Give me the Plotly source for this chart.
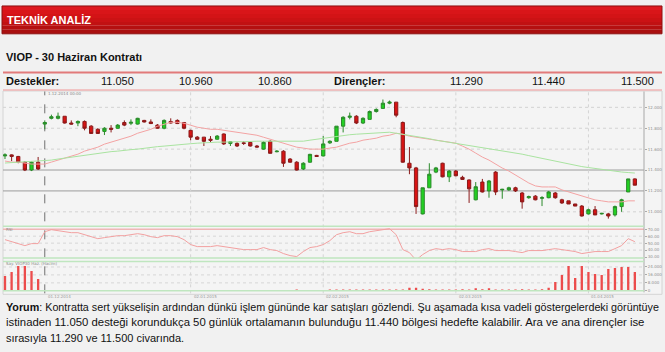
import plotly.graph_objects as go

W, H = 665, 352

# ---------------- data ----------------
opens = [11.535, 11.545, 11.530, 11.475, 11.400, 11.475, 11.840, 11.895, 11.895, 11.915,
         11.850, 11.850, 11.865, 11.820, 11.790, 11.770, 11.800, 11.800, 11.855, 11.848,
         11.840, 11.875, 11.860, 11.830, 11.800, 11.865, 11.875, 11.855, 11.780, 11.715,
         11.715, 11.695, 11.695, 11.745, 11.655, 11.655, 11.660, 11.665, 11.630, 11.600,
         11.675, 11.575, 11.580, 11.505, 11.475, 11.410, 11.475, 11.540, 11.535, 11.660,
         11.675, 11.820, 11.905, 11.915, 11.850, 11.885, 11.960, 11.990, 12.040, 12.050,
         11.855, 11.465, 11.420, 10.980, 11.230, 11.380, 11.465, 11.335, 11.390, 11.330,
         11.305, 11.115, 11.285, 11.200, 11.380, 11.210, 11.210, 11.230, 11.180, 11.135,
         11.150, 11.130, 11.135, 11.180, 11.115, 11.105, 11.075, 11.055, 10.980, 11.020,
         10.980, 10.980, 10.970, 11.050, 11.190, 11.315]
highs = [11.560, 11.550, 11.535, 11.485, 11.485, 11.525, 11.875, 11.930, 11.950, 11.915,
         11.875, 11.875, 11.875, 11.830, 11.800, 11.810, 11.830, 11.840, 11.875, 11.885,
         11.900, 11.880, 11.885, 11.840, 11.885, 11.895, 11.885, 11.860, 11.785, 11.725,
         11.715, 11.725, 11.735, 11.750, 11.675, 11.665, 11.675, 11.675, 11.640, 11.675,
         11.685, 11.590, 11.590, 11.515, 11.485, 11.475, 11.555, 11.545, 11.725, 11.685,
         11.820, 11.915, 11.950, 11.925, 11.905, 11.970, 11.990, 12.075, 12.065, 12.050,
         11.865, 11.620, 11.430, 11.230, 11.465, 11.430, 11.470, 11.400, 11.400, 11.345,
         11.310, 11.285, 11.315, 11.305, 11.390, 11.220, 11.240, 11.240, 11.190, 11.155,
         11.160, 11.150, 11.200, 11.190, 11.125, 11.105, 11.075, 11.065, 11.030, 11.055,
         10.990, 10.990, 11.060, 11.125, 11.315, 11.320]
lows = [11.505, 11.485, 11.465, 11.390, 11.390, 11.400, 11.790, 11.885, 11.885, 11.845,
        11.835, 11.820, 11.780, 11.745, 11.745, 11.735, 11.760, 11.795, 11.820, 11.830,
        11.835, 11.855, 11.840, 11.795, 11.790, 11.845, 11.840, 11.790, 11.685, 11.690,
        11.630, 11.665, 11.690, 11.640, 11.630, 11.620, 11.640, 11.625, 11.615, 11.595,
        11.560, 11.570, 11.430, 11.470, 11.395, 11.400, 11.470, 11.525, 11.530, 11.650,
        11.675, 11.760, 11.885, 11.840, 11.840, 11.885, 11.950, 11.990, 12.030, 11.905,
        11.470, 11.360, 10.980, 10.975, 11.230, 11.370, 11.330, 11.285, 11.340, 11.305,
        11.085, 11.110, 11.185, 11.135, 11.160, 11.125, 11.200, 11.190, 11.030, 11.125,
        11.110, 11.055, 11.130, 11.125, 11.075, 11.075, 11.055, 10.955, 10.975, 10.970,
        10.975, 10.935, 10.955, 11.000, 11.190, 11.255]
closes = [11.545, 11.530, 11.475, 11.400, 11.475, 11.410, 11.855, 11.910, 11.915, 11.850,
          11.840, 11.865, 11.800, 11.750, 11.750, 11.800, 11.790, 11.830, 11.830, 11.857,
          11.895, 11.860, 11.845, 11.800, 11.875, 11.850, 11.845, 11.800, 11.715, 11.695,
          11.675, 11.685, 11.725, 11.650, 11.670, 11.630, 11.655, 11.630, 11.620, 11.665,
          11.560, 11.580, 11.465, 11.475, 11.400, 11.465, 11.550, 11.530, 11.650, 11.675,
          11.820, 11.905, 11.915, 11.850, 11.895, 11.960, 11.980, 12.040, 12.050, 11.925,
          11.475, 11.420, 11.050, 11.230, 11.360, 11.420, 11.335, 11.390, 11.345, 11.310,
          11.220, 11.240, 11.190, 11.295, 11.190, 11.215, 11.230, 11.200, 11.095, 11.145,
          11.115, 11.135, 11.190, 11.135, 11.085, 11.075, 11.055, 10.960, 11.020, 10.970,
          10.985, 10.960, 11.050, 11.115, 11.315, 11.255]

ma_short = [11.486, 11.476, 11.476, 11.467, 11.457, 11.457, 11.457, 11.476, 11.495, 11.514,
            11.533, 11.552, 11.581, 11.600, 11.619, 11.648, 11.667, 11.686, 11.705, 11.724,
            11.752, 11.771, 11.790, 11.819, 11.838, 11.857, 11.857, 11.848, 11.829, 11.810,
            11.800, 11.790, 11.790, 11.781, 11.771, 11.762, 11.752, 11.743, 11.733, 11.714,
            11.695, 11.676, 11.657, 11.638, 11.619, 11.610, 11.600, 11.600, 11.600, 11.610,
            11.619, 11.638, 11.657, 11.667, 11.686, 11.695, 11.705, 11.724, 11.733, 11.752,
            11.743, 11.724, 11.714, 11.705, 11.695, 11.686, 11.676, 11.667, 11.657, 11.629,
            11.600, 11.562, 11.524, 11.495, 11.457, 11.419, 11.390, 11.352, 11.314, 11.276,
            11.248, 11.238, 11.238, 11.238, 11.210, 11.190, 11.171, 11.152, 11.133, 11.114,
            11.105, 11.095, 11.095, 11.095, 11.105, 11.105]
ma_long = [11.467, 11.471, 11.476, 11.476, 11.481, 11.486, 11.486, 11.495, 11.505, 11.514,
           11.524, 11.533, 11.543, 11.552, 11.562, 11.571, 11.576, 11.581, 11.590, 11.595,
           11.600, 11.610, 11.619, 11.624, 11.629, 11.633, 11.638, 11.648, 11.652, 11.657,
           11.662, 11.667, 11.667, 11.667, 11.671, 11.671, 11.671, 11.676, 11.676, 11.676,
           11.676, 11.676, 11.676, 11.676, 11.676, 11.676, 11.686, 11.695, 11.705, 11.714,
           11.724, 11.733, 11.738, 11.743, 11.748, 11.752, 11.757, 11.762, 11.762, 11.752,
           11.743, 11.733, 11.724, 11.714, 11.700, 11.686, 11.676, 11.662, 11.652, 11.643,
           11.633, 11.624, 11.614, 11.605, 11.595, 11.586, 11.576, 11.562, 11.552, 11.538,
           11.524, 11.510, 11.500, 11.486, 11.471, 11.457, 11.443, 11.433, 11.424, 11.414,
           11.405, 11.395, 11.386, 11.381, 11.376, 11.371]

rsi = [55.0, 52.1, 49.3, 46.4, 49.3, 49.3, 66.4, 69.3, 67.9, 66.4,
       65.0, 65.0, 62.1, 59.3, 56.4, 57.9, 59.3, 60.7, 60.7, 62.1,
       63.6, 62.1, 59.3, 57.9, 60.7, 60.7, 59.3, 55.0, 47.9, 45.0,
       45.0, 45.0, 46.4, 45.0, 43.6, 42.1, 40.7, 40.7, 40.7, 43.6,
       40.7, 39.3, 35.0, 32.1, 30.7, 37.9, 43.6, 45.0, 47.9, 53.6,
       62.1, 65.0, 66.4, 63.6, 63.6, 66.4, 67.9, 69.3, 70.7, 62.1,
       40.7, 36.4, 25.7, 33.6, 39.3, 42.1, 40.7, 42.1, 40.7, 37.9,
       37.9, 37.9, 40.7, 42.1, 39.3, 39.3, 39.3, 37.9, 36.4, 39.3,
       39.3, 39.3, 40.7, 42.1, 40.7, 39.3, 37.9, 35.0, 36.4, 37.9,
       37.9, 37.9, 42.1, 46.4, 56.4, 52.1]

volume = [15000, 19000, 25000, 25000, 20000, 12000, 200, 200, 200, 200,
          200, 200, 200, 200, 200, 200, 200, 200, 200, 200,
          200, 200, 200, 200, 200, 200, 200, 200, 200, 200,
          200, 200, 200, 200, 200, 200, 200, 200, 200, 200,
          300, 300, 300, 300, 1000, 300, 300, 300, 300, 600,
          600, 600, 600, 600, 600, 600, 600, 600, 600, 800,
          1200, 3000, 3000, 2000, 1500, 1000, 1000, 1000, 800, 1500,
          800, 2500, 1500, 2500, 1000, 1000, 1000, 1000, 1500, 1000,
          1000, 1500, 3000, 9000, 16000, 25000, 13000, 25000, 19000, 17000,
          16000, 22000, 23000, 24000, 24000, 19000]

idx = list(range(len(opens)))

month_start = [6, 28, 48, 68, 88]
month_labels = ["01.12.2014", "02.01.2015", "02.02.2015", "02.03.2015", "01.04.2015"]

price_ticks = [12.0, 11.8, 11.6, 11.4, 11.2, 11.0]
rsi_ticks = [70, 60, 50, 40, 30]
vol_ticks = [0, 8000, 16000, 24000]

supports = ["11.050", "10.960", "10.860"]
resistances = ["11.290", "11.440", "11.500"]

title_text = "TEKNİK ANALİZ"
subtitle_text = "VIOP - 30 Haziran Kontratı"
comment_lines = [
    "<b>Yorum</b>: Kontratta sert yükselişin ardından dünkü işlem gününde kar satışları gözlendi. Şu aşamada kısa vadeli göstergelerdeki görüntüye",
    "istinaden 11.050 desteği korundukça 50 günlük ortalamanın bulunduğu 11.440 bölgesi hedefte kalabilir. Ara ve ana dirençler ise",
    "sırasıyla 11.290 ve 11.500 civarında.",
]

# ---------------- helpers (page layout in pixels) ----------------
def fx(px):
    return px / W

def fy(py):
    return 1 - py / H

FONT = "Liberation Sans, Arial, sans-serif"

fig = go.Figure()

fig.add_trace(go.Scatter(x=idx, y=ma_short, mode="lines", line=dict(color="#f3a3a3", width=1),
                         xaxis="x", yaxis="y", hoverinfo="skip"))
fig.add_trace(go.Scatter(x=idx, y=ma_long, mode="lines", line=dict(color="#a9e3a0", width=1),
                         xaxis="x", yaxis="y", hoverinfo="skip"))
fig.add_trace(go.Candlestick(
    x=idx, open=opens, high=highs, low=lows, close=closes,
    increasing=dict(fillcolor="#22d022", line=dict(color="#2a8a2a", width=1)),
    decreasing=dict(fillcolor="#d81414", line=dict(color="#8a1a1a", width=1)),
    whiskerwidth=0, xaxis="x", yaxis="y"))

fig.add_trace(go.Scatter(x=idx, y=rsi, mode="lines", line=dict(color="#f2a0a0", width=1),
                         xaxis="x2", yaxis="y2", hoverinfo="skip"))

fig.add_trace(go.Bar(x=idx, y=volume, width=0.35, marker=dict(color="#ec4c4c", line=dict(width=0)),
                     xaxis="x3", yaxis="y3"))

xr = [-0.3, 96.38]
xdom = [fx(3), fx(644)]
common_x = dict(range=xr, domain=xdom, showgrid=False, zeroline=False, showticklabels=False,
                ticks="", fixedrange=True, rangeslider=dict(visible=False))

shapes = []

# header bar gradient
top, bot = 6, 34
bands = ["#df1a20", "#d91519", "#d31316", "#cb1214", "#c11112", "#b51010", "#aa1010"]
n = len(bands)
for k, c in enumerate(bands):
    y0 = top + (bot - top) * k / n
    y1 = top + (bot - top) * (k + 1) / n
    shapes.append(dict(type="rect", xref="paper", yref="paper", x0=fx(2), x1=fx(662),
                       y0=fy(y1), y1=fy(y0), fillcolor=c, line=dict(width=0), layer="below"))
shapes.append(dict(type="rect", xref="paper", yref="paper", x0=fx(2), x1=fx(662),
                   y0=fy(bot), y1=fy(top), line=dict(color="#8e1010", width=1)))

# separator lines of the page
shapes.append(dict(type="line", xref="paper", yref="paper", x0=fx(3), x1=fx(662),
                   y0=fy(73), y1=fy(73), line=dict(color="#e27a7a", width=2)))
shapes.append(dict(type="line", xref="paper", yref="paper", x0=fx(3), x1=fx(662),
                   y0=fy(90.5), y1=fy(90.5), line=dict(color="#f0b4b4", width=1.5)))

# chart frame
shapes.append(dict(type="rect", xref="paper", yref="paper", x0=fx(3), x1=fx(662),
                   y0=fy(296), y1=fy(91.5), line=dict(color="#d4d4d4", width=1), layer="below",
                   fillcolor="#f4f4f4"))
shapes.append(dict(type="line", xref="paper", yref="paper", x0=fx(644), x1=fx(644),
                   y0=fy(294), y1=fy(92), line=dict(color="#a8a8a8", width=1)))

# price grid
for v in price_ticks:
    solid = v in (11.4, 11.2)
    shapes.append(dict(type="line", xref="paper", yref="y", x0=fx(3), x1=fx(644), y0=v, y1=v,
                       line=dict(color="#9c9c9c" if solid else "#d2d2d2", width=1,
                                 dash="solid" if solid else "dot"), layer="below"))
# rsi grid
for v in [60, 50, 40]:
    shapes.append(dict(type="line", xref="paper", yref="y2", x0=fx(3), x1=fx(644), y0=v, y1=v,
                       line=dict(color="#d6d6d6", width=1, dash="dot"), layer="below"))
shapes.append(dict(type="line", xref="paper", yref="y2", x0=fx(3), x1=fx(644), y0=70, y1=70,
                   line=dict(color="#f0b6b6", width=1.5), layer="below"))
# volume grid
for v in vol_ticks[1:]:
    shapes.append(dict(type="line", xref="paper", yref="y3", x0=fx(3), x1=fx(644), y0=v, y1=v,
                       line=dict(color="#d6d6d6", width=1, dash="dot"), layer="below"))

# green panel separators
for py in (227.5, 259.5, 263, 292.5):
    shapes.append(dict(type="line", xref="paper", yref="paper", x0=fx(3), x1=fx(644),
                       y0=fy(py), y1=fy(py), line=dict(color="#bfe6bf", width=1.5)))

# month boundary lines
for k, m in enumerate(month_start):
    shapes.append(dict(type="line", xref="x", yref="paper", x0=m, x1=m, y0=fy(295), y1=fy(92),
                       line=dict(color="#707070" if k == 0 else "#d4d4d4", width=1,
                                 dash="dash" if k == 0 else "dot"), layer="below"))

annotations = []
def txt(text, px, py, size, color="#111111", anchor="left", family=FONT):
    annotations.append(dict(text=text, x=fx(px), y=fy(py), xref="paper", yref="paper",
                            xanchor=anchor, yanchor="middle", showarrow=False,
                            font=dict(family=family, size=size, color=color)))

txt("<b>" + title_text + "</b>", 5, 20.5, 11, color="white")
txt("<b>" + subtitle_text + "</b>", 4, 57, 11)
txt("<b>Destekler:</b>", 4, 81.5, 11)
txt("<b>Dirençler:</b>", 332, 81.5, 11)
for s, cx in zip(supports, (117, 196, 275)):
    txt(s, cx, 81.5, 11, anchor="center")
for s, cx in zip(resistances, (466, 548, 637)):
    txt(s, cx, 81.5, 11, anchor="center")

for line, py, size in zip(comment_lines, (308.5, 324, 339.5), (10.75, 11.35, 11)):
    txt(line, 4, py, size)

# tiny chart labels
for m, lab in zip(month_start, month_labels):
    annotations.append(dict(text=lab, x=m, y=fy(298.5), xref="x", yref="paper",
                            xanchor="left", yanchor="middle", showarrow=False, xshift=1,
                            font=dict(family="DejaVu Sans", size=4, color="#9a9a9a")))
annotations.append(dict(text="1.12.2014 00:00", x=month_start[0], y=fy(94.5), xref="x", yref="paper",
                        xanchor="left", yanchor="middle", showarrow=False, xshift=1,
                        font=dict(family="DejaVu Sans", size=4, color="#8a8a8a")))
txt("RSI", 4, 231, 4, color="#8a8a8a", family="DejaVu Sans")
txt("Say. VIOP30 Haz. (Hacim)", 4, 265.5, 4, color="#8a8a8a", family="DejaVu Sans")

tick_font = dict(family="DejaVu Sans", size=4, color="#909090")

fig.update_layout(
    width=W, height=H, autosize=False,
    margin=dict(l=0, r=0, t=0, b=0, pad=0),
    paper_bgcolor="#f1f1f1", plot_bgcolor="rgba(0,0,0,0)",
    showlegend=False, hovermode=False, boxgap=0.3,
    xaxis=dict(**common_x, anchor="y"),
    xaxis2=dict(**common_x, anchor="y2", matches="x"),
    xaxis3=dict(**common_x, anchor="y3", matches="x"),
    yaxis=dict(domain=[fy(225), fy(92)], range=[10.886, 12.152], side="right", anchor="x",
               showgrid=False, zeroline=False, tickvals=price_ticks,
               ticktext=[f"{v:.3f}" for v in price_ticks], tickfont=tick_font, ticks="outside",
               ticklen=2, tickcolor="#aaaaaa", fixedrange=True),
    yaxis2=dict(domain=[fy(259.5), fy(227.5)], range=[28.6, 74.3], side="right", anchor="x2",
                showgrid=False, zeroline=False, tickvals=rsi_ticks,
                ticktext=[f"{v:.2f}" for v in rsi_ticks], tickfont=tick_font, ticks="outside",
                ticklen=2, tickcolor="#aaaaaa", fixedrange=True),
    yaxis3=dict(domain=[fy(292.5), fy(263)], range=[0, 29500], side="right", anchor="x3",
                showgrid=False, zeroline=False, tickvals=vol_ticks,
                ticktext=[f"{v:,}".replace(",", ".") for v in vol_ticks], tickfont=tick_font,
                ticks="outside", ticklen=2, tickcolor="#aaaaaa", fixedrange=True),
    shapes=shapes, annotations=annotations,
)

fig.write_html("out.html")
